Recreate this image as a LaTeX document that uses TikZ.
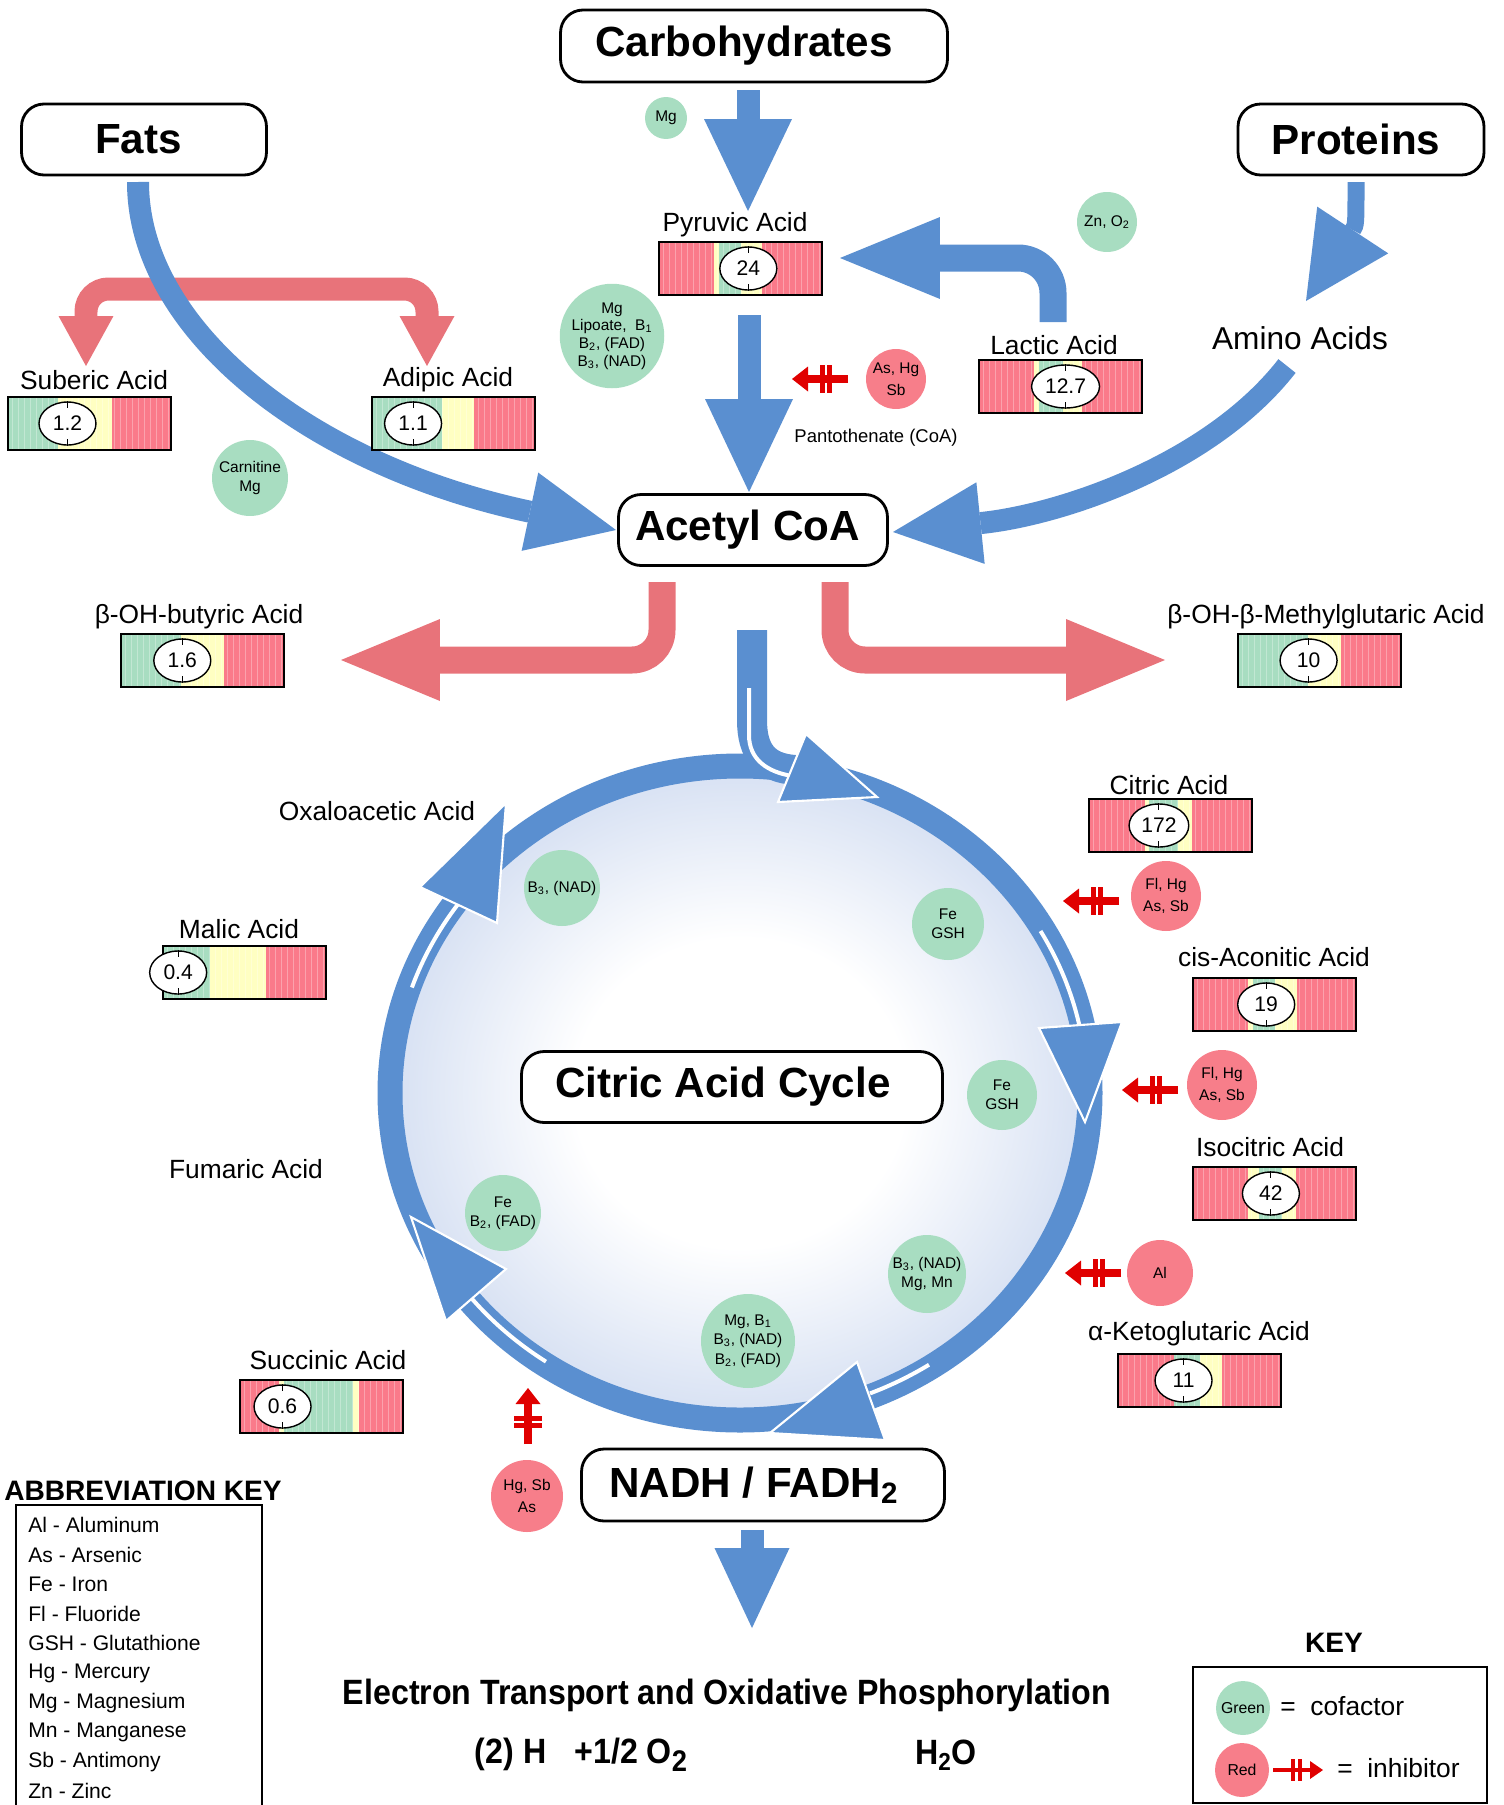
\documentclass[tikz,border=0pt]{standalone}
\usepackage{fontspec}
\setmainfont{Liberation Sans}
\newfontfamily\narrowfont{Liberation Sans}[FakeStretch=0.915]
\definecolor{kcBlue}{HTML}{5A8FD0}
\definecolor{kcPink}{HTML}{E8737A}
\definecolor{kcGreen}{HTML}{A8DDC1}
\definecolor{kcRose}{HTML}{F77E8A}
\definecolor{kcBarRed}{HTML}{FA7A8A}
\definecolor{kcYellow}{HTML}{FFFFC2}
\definecolor{kcInhib}{HTML}{E00000}
\definecolor{kcDisk}{HTML}{8CA8DC}
\usetikzlibrary{positioning,arrows.meta,shapes.geometric}

\pgfdeclareradialshading{kcdisk}{\pgfpoint{0bp}{0bp}}{color(0bp)=(white); color(12bp)=(white); color(50bp)=(kcDisk)}

\newcommand{\subsc}[1]{\textsubscript{#1}}
\newcommand{\padr}[1]{\rule{#1}{0pt}}

\tikzset{
  box/.style={draw, line width=1.6pt, rounded corners=0.45cm, fill=white, inner sep=0pt,
    font=\fontsize{24}{28}\selectfont\bfseries},
  acid/.style={inner sep=0pt, font=\fontsize{15}{18}\selectfont},
  cofactor/.style={circle, fill=kcGreen, inner sep=0pt, align=center, font=\fontsize{8.8}{11}\selectfont},
  inhibitor/.style={cofactor, fill=kcRose, font=\fontsize{8.8}{12.5}\selectfont},
  gaugeval/.style={ellipse, draw, line width=0.8pt, fill=white, inner xsep=2pt, inner ysep=0pt,
    minimum width=1.14cm, minimum height=0.86cm, font=\fontsize{12}{14}\selectfont},
  blueflow/.style n args={3}{draw=kcBlue, line width=#1, -{Triangle[length=#2, width=#3, line width=0pt]}},
  pinkflow/.style n args={3}{draw=kcPink, line width=#1, -{Triangle[length=#2, width=#3, line width=0pt]}},
  cyclehead/.style={fill=kcBlue, draw=white, line width=1.2pt},
  inhib/.style={draw=kcInhib, line width=0.16cm, -{Triangle[length=0.32cm, width=0.5cm, line width=0pt]}},
  inhbar/.style={draw=kcInhib, line width=0.1cm},
  abbr/.style={anchor=west, inner sep=0pt, font=\fontsize{12}{14}\selectfont},
  keyhead/.style={inner sep=0pt, font=\fontsize{16}{19}\selectfont\bfseries},
  etc/.style={inner sep=0pt, font=\narrowfont\bfseries\fontsize{20}{24}\selectfont}
}

% #1 name, #2 #3 top left corner, #4 colour bands, #5 marker position, #6 value
\newcommand{\gauge}[6]{%
  \begin{scope}[shift={(#2,#3)}]
    \foreach \gc/\ga/\gb in {#4} \fill[\gc] (\ga*163,0) rectangle (\gb*163,53);
    \foreach \s in {4,10,...,160} \draw[white, opacity=0.3, line width=0.5pt] (\s,0) -- (\s,53);
    \draw[line width=0.9pt] (0,0) rectangle (163,53);
    \node[gaugeval] (#1) at (#5*163,26.5) {#6};
    \draw[line width=0.6pt] (#1.north) -- ++(0,7) (#1.south) -- ++(0,-7);
  \end{scope}}

% inhibitor arrow: #1 #2 centre, #3 rotation
\newcommand{\inhsym}[3]{%
  \begin{scope}[shift={(#1,#2)}, rotate=#3]
    \draw[inhib] (28,0) -- (-28,0);
    \draw[inhbar] (2,-14) -- (2,14) (9,-14) -- (9,14);
  \end{scope}}

\begin{document}
\begin{tikzpicture}[x=0.02cm, y=-0.02cm]
\useasboundingbox (0,0) rectangle (1504,1805);

% cycle wheel
\shade[shading=kcdisk] (740,1093) ellipse[x radius=345, y radius=322];
\draw[kcBlue, line width=0.5cm] (740,1093) ellipse[x radius=350, y radius=327];
\foreach \a/\b in {199/216, -30/-12, 124/142, 57/68}
  \draw[white, line width=0.08cm] (740,1093) ++(\a:347 and 324) arc[start angle=\a, end angle=\b, x radius=347, y radius=324];

\coordinate (acetylin) at (752,630);
\draw[kcBlue, line width=0.6cm] (acetylin) -- (752,720) .. controls (752,752) and (765,768) .. (795,770);
\draw[white, line width=0.08cm] (749,688) -- (749,735) .. controls (749,760) and (768,772) .. (792,776);

\path[cyclehead] (806,734) -- (778,802) -- (877,797) -- cycle;
\path[cyclehead] (1039,1028) -- (1122,1022) -- (1085,1122) -- cycle;
\path[cyclehead] (857,1362) -- (770,1433) -- (885,1440) -- cycle;
\path[cyclehead] (411,1217) -- (506,1269) -- (446,1321) -- cycle;
\path[cyclehead] (506,803) -- (420,887) -- (497,923) -- cycle;

% side routes
\coordinate (suberin) at (86,366);
\coordinate (adipin) at (427,366);
\coordinate (adipfork) at (427,289);
\draw[pinkflow={0.46cm}{1cm}{1.1cm}, {Triangle[length=1cm, width=1.1cm, line width=0pt]}-{Triangle[length=1cm, width=1.1cm, line width=0pt]},
  rounded corners=0.45cm] (suberin) |- (adipfork) -- (adipin);

\coordinate (acetylbl) at (662,582);
\coordinate (acetylbr) at (835,582);
\coordinate (butyrin) at (341,660);
\coordinate (hmgin) at (1165,660);
\draw[pinkflow={0.54cm}{1.98cm}{1.64cm}, rounded corners=0.6cm] (acetylbl) |- (butyrin);
\draw[pinkflow={0.54cm}{1.98cm}{1.64cm}, rounded corners=0.6cm] (acetylbr) |- (hmgin);

% main routes
\coordinate (carbsout) at (748,90);
\coordinate (pyrin) at (748,211);
\coordinate (pyrout) at (749,315);
\coordinate (acetyltop) at (749,492);
\coordinate (lacticout) at (1053,322);
\coordinate (pyrside) at (840,258);
\coordinate (fatsout) at (138,182);
\coordinate (acetylleft) at (616,530);
\coordinate (protout) at (1356,182);
\coordinate (aminoin) at (1306,301);
\coordinate (aminoout) at (1287,366);
\coordinate (acetylright) at (893,532);
\coordinate (nadhout) at (752,1530);
\coordinate (etcin) at (752,1628);

\draw[blueflow={0.46cm}{1.84cm}{1.76cm}] (carbsout) -- (pyrin);
\draw[blueflow={0.46cm}{1.86cm}{1.76cm}] (pyrout) -- (acetyltop);
\draw[blueflow={0.54cm}{2cm}{1.64cm}, rounded corners=0.7cm] (lacticout) |- (pyrside);
\draw[blueflow={0.44cm}{1.76cm}{1.6cm}] (fatsout) .. controls (138,330) and (310,465) .. (acetylleft);
\draw[blueflow={0.34cm}{1.7cm}{1.7cm}] (protout) .. controls (1356,225) .. (aminoin);
\draw[blueflow={0.44cm}{1.76cm}{1.64cm}] (aminoout) .. controls (1210,465) and (1060,515) .. (acetylright);
\draw[blueflow={0.46cm}{1.6cm}{1.5cm}] (nadhout) -- (etcin);

% gauges
\node[acid] (suberlbl) at (94,380) {Suberic Acid};
\gauge{suber}{8}{397}{kcGreen/0/0.304, kcYellow/0.304/0.637, kcBarRed/0.637/1}{0.365}{1.2}
\node[acid] (adiplbl) at (448,380) {Adipic Acid};
\gauge{adip}{372}{397}{kcGreen/0/0.431, kcYellow/0.431/0.628, kcBarRed/0.628/1}{0.252}{1.1}
\node[acid] (pyrlbl) at (735,225) {Pyruvic Acid};
\gauge{pyr}{659}{242}{kcBarRed/0/0.339, kcYellow/0.339/0.369, kcGreen/0.369/0.501, kcYellow/0.501/0.633, kcBarRed/0.633/1}{0.548}{24}
\node[acid] (lactlbl) at (1054,345) {Lactic Acid};
\gauge{lact}{979}{360}{kcBarRed/0/0.339, kcYellow/0.339/0.369, kcGreen/0.369/0.516, kcYellow/0.516/0.629, kcBarRed/0.629/1}{0.531}{12.7}
\node[acid] (butyrlbl) at (199,617) {β-OH-butyric Acid};
\gauge{butyr}{121}{634}{kcGreen/0/0.37, kcYellow/0.37/0.63, kcBarRed/0.63/1}{0.376}{1.6}
\node[acid] (hmglbl) at (1326,617) {β-OH-β-Methylglutaric Acid};
\gauge{hmg}{1238}{634}{kcGreen/0/0.43, kcYellow/0.43/0.63, kcBarRed/0.63/1}{0.433}{10}
\node[acid] (citrlbl) at (1169,785) {Citric Acid};
\gauge{citr}{1089}{799}{kcBarRed/0/0.341, kcYellow/0.341/0.371, kcGreen/0.371/0.547, kcYellow/0.547/0.633, kcBarRed/0.633/1}{0.429}{172}
\node[acid] (mallbl) at (239,929) {Malic Acid};
\gauge{mal}{163}{946}{kcGreen/0/0.289, kcYellow/0.289/0.63, kcBarRed/0.63/1}{0.093}{0.4}
\node[acid] (aconlbl) at (1274,957) {cis-Aconitic Acid};
\gauge{acon}{1193}{978}{kcBarRed/0/0.339, kcYellow/0.339/0.369, kcGreen/0.369/0.5, kcYellow/0.5/0.635, kcBarRed/0.635/1}{0.449}{19}
\node[acid] (isoclbl) at (1270,1147) {Isocitric Acid};
\gauge{isoc}{1193}{1167}{kcBarRed/0/0.337, kcYellow/0.337/0.402, kcGreen/0.402/0.545, kcYellow/0.545/0.633, kcBarRed/0.633/1}{0.478}{42}
\node[acid] (akglbl) at (1199,1334) {α-Ketoglutaric Acid};
\gauge{akg}{1118}{1354}{kcBarRed/0/0.341, kcGreen/0.341/0.504, kcYellow/0.504/0.637, kcBarRed/0.637/1}{0.402}{11}
\node[acid] (succlbl) at (328,1360) {Succinic Acid};
\gauge{succ}{240}{1380}{kcBarRed/0/0.241, kcYellow/0.241/0.271, kcGreen/0.271/0.694, kcYellow/0.694/0.727, kcBarRed/0.727/1}{0.261}{0.6}

\node[acid] (oxalbl) at (377,811) {Oxaloacetic Acid};
\node[acid] (fumlbl) at (246,1169) {Fumaric Acid};
\node[inner sep=0pt, font=\fontsize{18}{21}\selectfont] (aminolbl) at (1300,338) {Amino Acids};
\node[inner sep=0pt, font=\fontsize{10.5}{12}\selectfont] (pantolbl) at (876,438) {Pantothenate (CoA)};

% cofactors
\node[cofactor, minimum size=0.84cm] (mgcarb) at (666,118) {Mg};
\node[cofactor, minimum size=1.2cm] (zno) at (1107,222) {Zn, O\subsc{2}};
\node[cofactor, minimum size=1.96cm, font=\fontsize{8.8}{10}\selectfont] (pdhcof) at (612,336) {Mg\\Lipoate,\ \ B\subsc{1}\\B\subsc{2}, (FAD)\\B\subsc{3}, (NAD)};
\node[cofactor, minimum size=1.52cm] (carnit) at (250,478) {Carnitine\\Mg};
\node[cofactor, minimum size=1.52cm] (mdhcof) at (562,888) {B\subsc{3}, (NAD)};
\node[cofactor, minimum size=1.44cm] (acocof1) at (948,924) {Fe\\GSH};
\node[cofactor, minimum size=1.4cm] (acocof2) at (1002,1095) {Fe\\GSH};
\node[cofactor, minimum size=1.52cm] (sdhcof) at (503,1213) {Fe\\B\subsc{2}, (FAD)};
\node[cofactor, minimum size=1.56cm] (idhcof) at (927,1274) {B\subsc{3}, (NAD)\\Mg, Mn};
\node[cofactor, minimum size=1.88cm] (kgdhcof) at (748,1341) {Mg, B\subsc{1}\\B\subsc{3}, (NAD)\\B\subsc{2}, (FAD)};

% inhibitors
\node[inhibitor, minimum size=1.2cm] (pdhinh) at (896,379) {As, Hg\\Sb};
\node[inhibitor, minimum size=1.4cm] (acoinh1) at (1166,896) {Fl, Hg\\As, Sb};
\node[inhibitor, minimum size=1.4cm] (acoinh2) at (1222,1085) {Fl, Hg\\As, Sb};
\node[inhibitor, minimum size=1.32cm] (kginh) at (1160,1273) {Al};
\node[inhibitor, minimum size=1.44cm] (sdhinh) at (527,1496) {Hg, Sb\\As};
\inhsym{820}{379}{0}
\inhsym{1091}{901}{0}
\inhsym{1150}{1090}{0}
\inhsym{1093}{1273}{0}
\inhsym{528}{1416}{-90}

% main boxes
\node[box, minimum width=7.74cm, minimum height=1.44cm] (carbs) at (754,46) {Carbohydrates\padr{0.4cm}};
\node[box, minimum width=4.9cm, minimum height=1.42cm] (fats) at (144,139.5) {Fats\padr{0.22cm}};
\node[box, minimum width=4.92cm, minimum height=1.42cm] (prot) at (1361,139.5) {Proteins\padr{0.2cm}};
\node[box, minimum width=5.38cm, minimum height=1.42cm] (acetyl) at (753,530) {Acetyl CoA\padr{0.22cm}};
\node[box, minimum width=8.42cm, minimum height=1.42cm] (cycle) at (732,1087) {Citric Acid Cycle\padr{0.36cm}};
\node[box, minimum width=7.26cm, minimum height=1.44cm] (nadh) at (763,1485) {NADH / FADH\subsc{2}\padr{0.36cm}};

% electron transport
\node[etc] (etclbl) at (727,1695) {Electron Transport and Oxidative Phosphorylation};
\node[etc] (etcin1) at (581,1755) {(2) H\hspace{0.8em}+1/2 O\raisebox{-0.45ex}{\fontsize{17}{20}\selectfont 2}};
\node[etc] (etcout) at (946,1755) {H\subsc{2}O};

% abbreviation key
\node[keyhead] (abbrhead) at (143,1491) {ABBREVIATION KEY};
\draw[line width=1.2pt] (16,1830) -- (16,1505) -- (262,1505) -- (262,1830);
\foreach \t [count=\i from 0] in {Al - Aluminum, As - Arsenic, Fe - Iron, Fl - Fluoride, GSH - Glutathione,
  Hg - Mercury, Mg - Magnesium, Mn - Manganese, Sb - Antimony, Zn - Zinc}
  \node[abbr] (abbr\i) at (28,1525+29.6*\i) {\t};

% colour key
\node[keyhead] (keyhd) at (1334,1643) {KEY};
\draw[line width=1.2pt] (1193,1667) rectangle (1487,1803);
\node[cofactor, minimum size=1.08cm, font=\fontsize{9}{11}\selectfont] (keygreen) at (1243,1708) {Green};
\node[inhibitor, minimum size=1.08cm, font=\fontsize{9}{11}\selectfont] (keyred) at (1242,1770) {Red};
\node[acid, anchor=west] (keycof) at (1280,1706) {=~~cofactor};
\node[acid, anchor=west] (keyinh) at (1337,1768) {=~~inhibitor};
\coordinate (keyarrs) at (1273,1770);
\coordinate (keyarre) at (1323,1770);
\draw[draw=kcInhib, line width=0.09cm, -{Triangle[length=0.26cm, width=0.36cm, line width=0pt]}] (keyarrs) -- (keyarre);
\draw[draw=kcInhib, line width=0.07cm] (1293,1759) -- (1293,1781) (1300,1759) -- (1300,1781);
\end{tikzpicture}
\end{document}
